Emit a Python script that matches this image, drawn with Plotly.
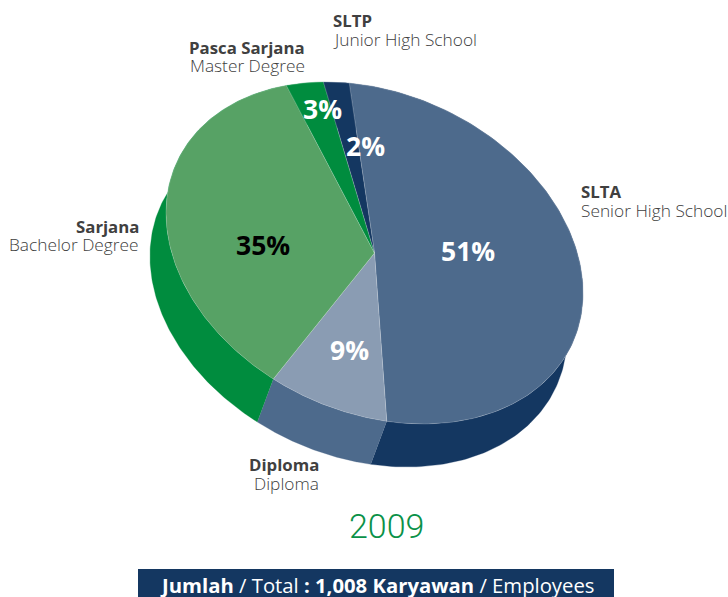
import numpy as np
import plotly.graph_objects as go

# Education breakdown of employees, 2009
levels = ["SLTA", "Diploma", "Sarjana", "Pasca Sarjana", "SLTP"]
levels_en = ["Senior High School", "Diploma", "Bachelor Degree", "Master Degree", "Junior High School"]
shares = [51, 9, 35, 3, 2]
year = "2009"

top_colors = ["#4d6a8c", "#8a9cb3", "#57a265", "#008c3e", "#143761"]
side_colors = ["#143761", "#4d6a8c", "#008c3e", "#008c3e", "#143761"]
share_colors = ["white", "white", "black", "white", "white"]

# Tilted ellipse that stands in for the pie's top face
CX, CY = 374.5, 253.0
A, B = 217.5, 159.4
TILT = np.radians(24.7)
START = 244.4
DEPTH = (-16.0, 43.0)

EDGE = "rgba(255,255,255,0.25)"


def rim(t_deg):
    t = np.radians(t_deg)
    u, v = A * np.cos(t), B * np.sin(t)
    return (CX + u * np.cos(TILT) - v * np.sin(TILT),
            CY + u * np.sin(TILT) + v * np.cos(TILT))


fig = go.Figure()
edges = START + np.cumsum([0] + shares) * 3.6

# Extruded wall first, so that the top face hides its rear part
for i, colour in enumerate(side_colors):
    t = np.linspace(edges[i], edges[i + 1], 160)
    x, y = rim(t)
    fig.add_trace(go.Scatter(
        x=np.r_[x, x[::-1] + DEPTH[0]], y=np.r_[y, y[::-1] + DEPTH[1]],
        mode="lines", fill="toself", fillcolor=colour,
        line=dict(color=colour, width=0.3), hoverinfo="skip", showlegend=False))

for i, colour in enumerate(top_colors):
    t = np.linspace(edges[i], edges[i + 1], 160)
    x, y = rim(t)
    fig.add_trace(go.Scatter(
        x=np.r_[CX, x, CX], y=np.r_[CY, y, CY],
        mode="lines", fill="toself", fillcolor=colour,
        line=dict(color=EDGE, width=0.7), name=levels[i], showlegend=False))

BODY = "Open Sans"
annotations = []


def put(text, x, y, size, colour, anchor="center", family=BODY, weight=None):
    font = dict(family=family, size=size, color=colour)
    if weight:
        font["weight"] = weight
    annotations.append(dict(
        text=text, x=x, y=y, xref="x", yref="y", xanchor=anchor, yanchor="middle",
        showarrow=False, borderpad=0, font=font))


# Share figures on the slices
share_xy = [(468, 250.5), (349, 349.5), (262.5, 244.5), (322, 108.5), (365, 145.5)]
for v, (x, y), colour in zip(shares, share_xy, share_colors):
    put(f"<b>{v}%</b>", x, y, 26.5, colour)

# Callouts: Indonesian name in bold above the English one
callouts = [(580, 191.5, 210, "left"), (320, 464, 483, "right"), (140, 226.5, 244, "right"),
            (305.5, 47.5, 65, "right"), (332, 20.5, 39, "left")]
for name, name_en, (x, y1, y2, anchor) in zip(levels, levels_en, callouts):
    put(f"<b>{name}</b>", x, y1, 16.8, "#404040", anchor)
    put(name_en, x, y2, 17.3, "#404040", anchor, weight=300)

put(year, 386.5, 526, 34, "#0a9148", family="Roboto", weight=300)
put("<b>Jumlah</b> / Total <b>: 1,008 Karyawan</b> / Employees", 376.5, 585, 20.3, "white")

fig.update_layout(
    width=728, height=597, margin=dict(l=0, r=0, t=0, b=0),
    paper_bgcolor="white", plot_bgcolor="white", showlegend=False,
    annotations=annotations,
    xaxis=dict(range=[0, 728], visible=False, fixedrange=True),
    yaxis=dict(range=[597, 0], visible=False, fixedrange=True),
    shapes=[dict(type="rect", xref="x", yref="y", x0=138, x1=614, y0=569, y1=597,
                 fillcolor="#143761", line_width=0, layer="below")],
)
fig.write_html("out.html", config={"displayModeBar": False})
